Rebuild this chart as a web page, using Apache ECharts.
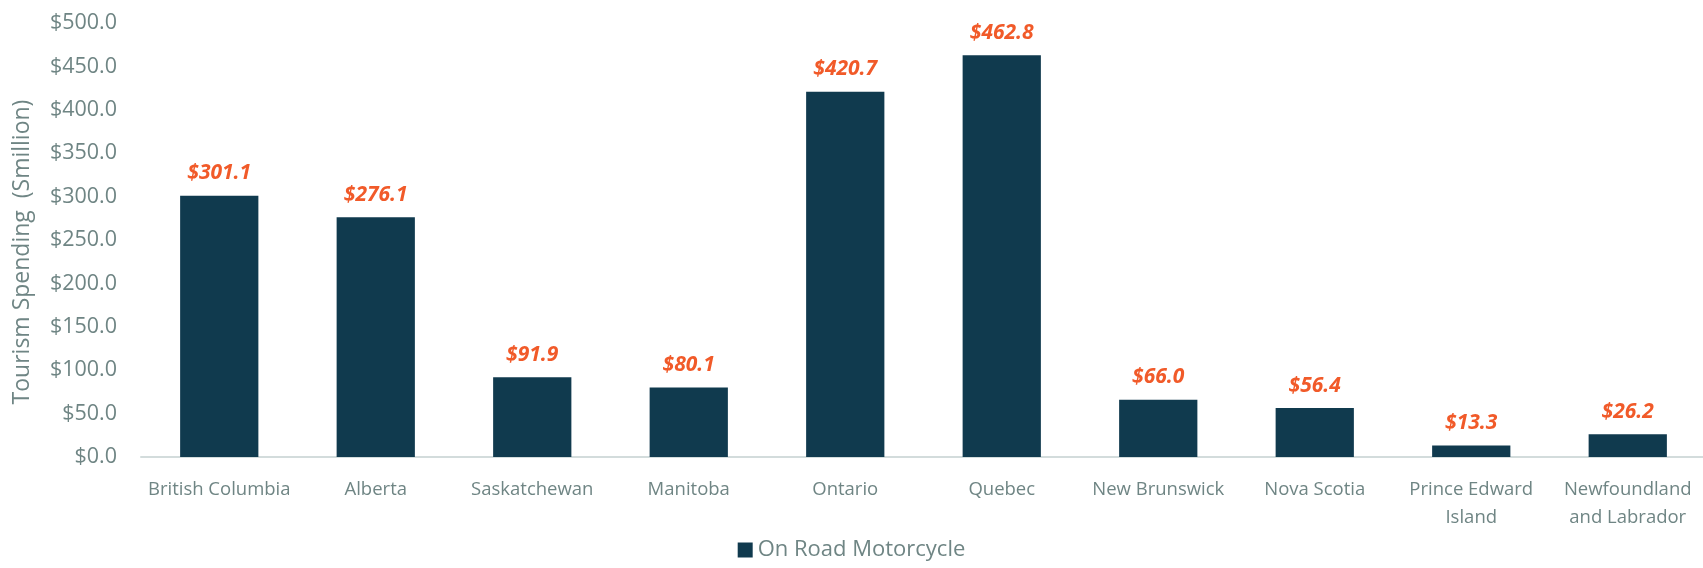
<!DOCTYPE html>
<html>
<head>
<meta charset="utf-8">
<script src="https://cdn.jsdelivr.net/npm/echarts@6/dist/echarts.min.js"></script>
<style>
  html, body { margin: 0; padding: 0; background: #fff; }
  #main { width: 1703px; height: 568px; }
</style>
</head>
<body>
<div id="main"></div>
<script>
var provinces = ['British Columbia', 'Alberta', 'Saskatchewan', 'Manitoba', 'Ontario', 'Quebec',
    'New Brunswick', 'Nova Scotia', 'Prince Edward Island', 'Newfoundland and Labrador'];
var spending = [301.1, 276.1, 91.9, 80.1, 420.7, 462.8, 66.0, 56.4, 13.3, 26.2];
var seriesName = 'On Road Motorcycle';

var textGrey = '#6f8584';
var barColor = '#103a4e';

// two-line labels as in the original
var wrapped = {
    'Prince Edward Island': 'Prince Edward\nIsland',
    'Newfoundland and Labrador': 'Newfoundland\nand Labrador'
};

var myChart = echarts.init(document.getElementById('main'));
var option = {
    textStyle: { fontFamily: 'Open Sans' },
    grid: { left: 141, right: -3, top: 23, bottom: 111, outerBoundsMode: 'none', containLabel: false },
    legend: {
        data: [seriesName],
        bottom: 2,
        left: 'center',
        itemWidth: 15,
        itemHeight: 15,
        itemGap: 6,
        icon: 'rect',
        textStyle: { color: textGrey, fontSize: 22, fontFamily: 'Open Sans' }
    },
    xAxis: {
        type: 'category',
        data: provinces,
        axisLine: { lineStyle: { color: '#d3dcdc', width: 2 } },
        axisTick: { show: false },
        axisLabel: {
            color: textGrey,
            fontSize: 18.5,
            margin: 19,
            lineHeight: 28,
            interval: 0,
            formatter: function (v) { return wrapped[v] || v; }
        }
    },
    yAxis: {
        type: 'value',
        min: 0,
        max: 500,
        interval: 50,
        name: 'Tourism Spending  (Smillion)',
        nameLocation: 'middle',
        nameGap: 107,
        nameTextStyle: { color: textGrey, fontSize: 23, fontFamily: 'Open Sans', padding: [0, 24, 0, 0] },
        axisLine: { show: false },
        axisTick: { show: false },
        splitLine: { show: false },
        axisLabel: {
            color: textGrey,
            fontSize: 21.5,
            margin: 24,
            formatter: function (v) { return '$' + v.toFixed(1); }
        }
    },
    series: [{
        name: seriesName,
        type: 'bar',
        data: spending,
        barWidth: '50%',
        itemStyle: { color: barColor },
        label: {
            show: true,
            position: 'top',
            distance: 12,
            color: '#f15a29',
            fontSize: 21,
            fontWeight: 'bold',
            fontStyle: 'italic',
            formatter: function (p) { return '$' + p.value.toFixed(1); }
        }
    }]
};
myChart.setOption(option);
window.addEventListener('resize', function () {
    myChart.resize();
});
</script>
</body>
</html>
